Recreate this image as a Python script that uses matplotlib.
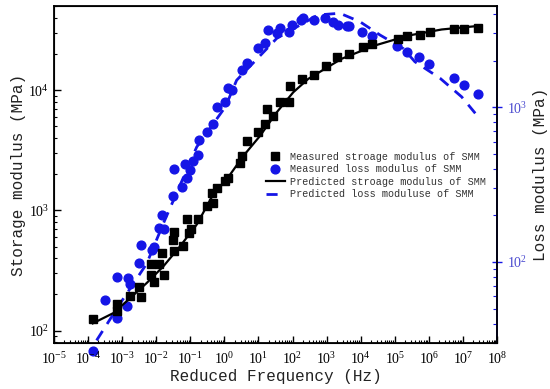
import numpy as np
import matplotlib
matplotlib.use('Agg')
import matplotlib.pyplot as plt
from matplotlib.ticker import LogLocator, NullFormatter

plt.rcParams['mathtext.fontset'] = 'stix'
plt.rcParams['font.family'] = ['Liberation Serif', 'DejaVu Sans']

# Measured storage modulus (Hz, MPa)
stor_f = [1.37e-4, 7.2e-4, 7.2e-4, 1.7e-3, 3.5e-3, 3.2e-3, 7.0e-3, 8.6e-3, 1.69e-2,
          6.9e-3, 1.18e-2, 1.45e-2, 3.3e-2, 5.97e-2, 3.04e-2, 3.3e-2, 7.8e-2, 9.3e-2,
          0.105, 0.168, 0.315, 0.472, 0.424, 0.594, 1.04, 1.30, 2.87, 3.22, 4.51, 9.9,
          15.5, 17.4, 27.2, 42.9, 78.7, 84.1, 185, 434, 940, 1970, 4530, 11900, 21000,
          122000, 223000, 548000, 1.08e6, 5.57e6, 1.09e7, 2.7e7]
stor_E = [125, 167, 147, 195, 190, 230, 292, 252, 290, 360, 360, 446, 456, 502, 571,
          667, 855, 650, 702, 851, 1084, 1157, 1402, 1545, 1754, 1872, 2496, 2833, 3782,
          4443, 5215, 6954, 6114, 7906, 7906, 10760, 12390, 13370, 15990, 18790, 20010,
          23020, 24250, 26710, 28120, 28840, 30370, 31900, 31900, 32800]

# Measured loss modulus (Hz, MPa)
loss_f = [1.42e-4, 3.14e-4, 7.2e-4, 6.9e-4, 1.36e-3, 1.51e-3, 1.7e-3, 3.05e-3, 3.66e-3,
          7.4e-3, 8.6e-3, 1.23e-2, 1.45e-2, 1.69e-2, 3.04e-2, 5.58e-2, 3.3e-2, 7.8e-2,
          6.98e-2, 9.8e-2, 0.117, 0.172, 0.18, 0.315, 0.472, 0.594, 1.04, 1.25, 1.64,
          3.22, 4.51, 9.9, 15.5, 19.4, 34.3, 42.9, 78.7, 94.4, 177, 207, 434, 895, 1570,
          2200, 3880, 4530, 11100, 21900, 114000, 223000, 513000, 1.01e6, 5.57e6, 1.09e7,
          2.7e7]
loss_E = [26.6, 57.2, 80, 43.7, 51.8, 79.2, 71.8, 98.6, 129.5, 119, 125, 167, 200, 164,
          266, 303, 396, 351, 428, 392, 448, 490, 612, 692, 777, 995, 1072, 1320, 1300,
          1734, 1916, 2398, 2585, 3150, 2995, 3228, 3070, 3390, 3650, 3740, 3650, 3740,
          3560, 3390, 3340, 3350, 3040, 2880, 2477, 2276, 2094, 1897, 1546, 1380, 1208]

# Predicted curves
pred_stor_f = [1.37e-4, 5.5e-4, 1.7e-3, 5.25e-3, 1.61e-2, 4.98e-2, 0.154, 0.472, 1.17,
               3.59, 11.1, 34.3, 105, 290, 2750, 26300, 251000, 2.38e6, 2.7e7]
pred_stor_E = [115, 140, 186, 249, 342, 502, 762, 1359, 1811, 2832, 4160, 6530, 9590,
               12400, 18200, 23500, 28400, 31900, 34100]

pred_loss_f = [1.78e-4, 8.65e-4, 5.25e-3, 1.61e-2, 4.98e-2, 0.154, 1.07, 2.29, 34.3,
               166, 562, 2450, 9550, 37200, 178000, 389000, 2.14e6, 9.18e6, 2.7e7]
pred_loss_E = [31.2, 53.8, 97.6, 177, 313, 553, 1005, 1493, 2780, 3390, 3940, 4040,
               3560, 2920, 2390, 1965, 1536, 1166, 875]

blue = '#1515e6'

fig = plt.figure(figsize=(5.5, 3.89), dpi=100)
fig.subplots_adjust(left=54 / 550, right=497 / 550, top=1 - 6 / 389, bottom=1 - 343 / 389)
ax = fig.add_subplot(111)
ax2 = ax.twinx()

# zorder so the left-axis data sits on top of the twin axis
ax.set_zorder(ax2.get_zorder() + 1)
ax.patch.set_visible(False)

h1, = ax.plot(stor_f, stor_E, 's', color='black', markersize=5.5, linestyle='none',
              label='Measured stroage modulus of SMM')
h3, = ax.plot(pred_stor_f, pred_stor_E, '-', color='black', linewidth=1.6,
              label='Predicted stroage modulus of SMM')
h2, = ax2.plot(loss_f, loss_E, 'o', color=blue, markersize=6.3, linestyle='none',
               clip_on=False, label='Measured loss modulus of SMM')
h4, = ax2.plot(pred_loss_f, pred_loss_E, '--', color=blue, linewidth=2, dashes=(4, 3),
               label='Predicted loss moduluse of SMM')

ax.set_xscale('log')
ax.set_yscale('log')
ax2.set_yscale('log')
ax.set_xlim(1e-5, 1e8)
ax.set_ylim(79, 50000)
ax2.set_ylim(30, 4500)

ax.xaxis.set_major_locator(LogLocator(base=10, numticks=20))
ax.xaxis.set_minor_locator(LogLocator(base=10, subs=np.arange(2, 10), numticks=200))
ax.xaxis.set_minor_formatter(NullFormatter())

ax.tick_params(axis='x', which='major', direction='in', length=5, width=1, labelsize=10,
               top=False, pad=6)
ax.tick_params(axis='x', which='minor', direction='in', length=2.5, width=0.8, top=False)
ax.tick_params(axis='y', which='major', direction='in', length=5, width=1, labelsize=10)
ax.tick_params(axis='y', which='minor', direction='in', length=2.5, width=0.8)
ax2.tick_params(axis='y', which='major', direction='inout', length=7, width=1,
                labelsize=10, colors=blue, labelcolor='#4a4ad0')
ax2.tick_params(axis='y', which='minor', direction='in', length=3, width=0.8, colors=blue)

for s in ax.spines.values():
    s.set_linewidth(1.3)
ax2.spines['right'].set_color(blue)
ax2.spines['right'].set_linewidth(1.3)

mono = ['Liberation Mono', 'DejaVu Sans Mono']
ax.set_xlabel('Reduced Frequency (Hz)', family=mono, fontsize=11.5, labelpad=1,
              color='#222222')
ax.set_ylabel('Storage modulus (MPa)', family=mono, fontsize=11.5, labelpad=2,
              color='#222222')
ax2.set_ylabel('Loss modulus (MPa)', family=mono, fontsize=11.5, labelpad=4,
               color='#222222')

ax.legend(handles=[h1, h2, h3, h4], loc='upper left', bbox_to_anchor=(0.47, 0.58),
          frameon=False, prop={'family': mono, 'size': 7.3}, handlelength=1.8,
          handletextpad=0.5, labelspacing=0.25, borderaxespad=0, labelcolor='#333333')

fig.savefig('out.png', dpi=100)
